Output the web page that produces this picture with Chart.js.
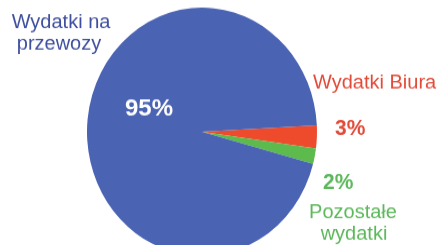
<!DOCTYPE html>
<html>
<head>
<meta charset="utf-8">
<script src="https://cdn.jsdelivr.net/npm/chart.js@4"></script>
<style>
html,body{margin:0;padding:0;background:#fff;overflow:hidden;width:444px;height:245px;}
#c{display:block;transform:scaleY(1.08);transform-origin:0 0;}
</style>
</head>
<body>
<canvas id="c" width="444" height="250" style="width:444px;height:250px"></canvas>
<script>
const categories = ['Wydatki Biura', 'Pozostałe wydatki', 'Wydatki na przewozy'];
const values = [3, 2, 95];
const valueLabels = ['3%', '2%', '95%'];
const sliceColors = ['#ee4a2c', '#5cbb4c', '#4a63b3'];
const textColors = ['#e24b39', '#5cb85a', '#3f4f9f'];

const S = 1.08;
const labelPlugin = {
  id: 'labels',
  afterDraw(chart) {
    const ctx = chart.ctx;
    ctx.save();
    ctx.scale(1, 1 / S);
    ctx.textBaseline = 'alphabetic';
    const reg = '20px "Liberation Sans", Arial, sans-serif';
    const bold = 'bold 21px "Liberation Sans", Arial, sans-serif';
    // Category names
    ctx.font = reg;
    ctx.textAlign = 'center';
    ctx.fillStyle = textColors[2];
    ctx.fillText('Wydatki na', 61, 28);
    ctx.fillText('przewozy', 59, 50);
    ctx.fillStyle = textColors[0];
    ctx.textAlign = 'left';
    ctx.fillText('Wydatki Biura', 313, 89);
    ctx.fillStyle = textColors[1];
    ctx.textAlign = 'center';
    ctx.fillText('Pozostałe', 353, 218);
    ctx.fillText('wydatki', 354, 240);
    // Values
    ctx.font = bold;
    ctx.textAlign = 'left';
    ctx.fillStyle = textColors[0];
    ctx.fillText(valueLabels[0], 335, 135);
    ctx.fillStyle = textColors[1];
    ctx.fillText(valueLabels[1], 323, 189);
    ctx.fillStyle = '#ffffff';
    ctx.font = 'bold 24px "Liberation Sans", Arial, sans-serif';
    ctx.fillText(valueLabels[2], 125, 116);
    ctx.restore();
  }
};

new Chart(document.getElementById('c'), {
  type: 'pie',
  data: {
    labels: categories,
    datasets: [{
      data: values,
      backgroundColor: sliceColors,
      borderWidth: 0,
      hoverOffset: 0
    }]
  },
  options: {
    responsive: false,
    animation: false,
    rotation: 87,
    layout: { padding: { left: 87, right: 127, top: 7, bottom: 13 } },
    plugins: { legend: { display: false }, tooltip: { enabled: false } }
  },
  plugins: [labelPlugin]
});
</script>
</body>
</html>
